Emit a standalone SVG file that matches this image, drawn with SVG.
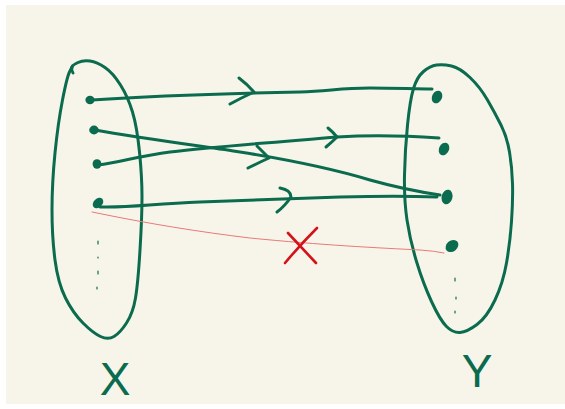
<svg xmlns="http://www.w3.org/2000/svg" width="565" height="409" viewBox="0 0 565 409">
<style>
.set{fill:none;stroke:#0b6b4e;stroke-width:3;stroke-linecap:round;stroke-linejoin:round}
.dot{fill:#0b6b4e}
.tick{stroke:#0b6b4e;stroke-width:1.2;stroke-linecap:round}
.edge{fill:none;stroke:#0b6b4e;stroke-width:3;stroke-linecap:round;stroke-linejoin:round}
.bad{fill:none;stroke:#e87a78;stroke-width:1;stroke-linecap:round}
.cross{fill:none;stroke:#d3121c;stroke-width:2.6;stroke-linecap:round}
.lbl{font-family:"Liberation Sans",Arial,sans-serif;font-size:46px;fill:#0b6b4e;text-anchor:middle}
</style>
<rect x="0" y="0" width="565" height="409" fill="#ffffff"/>
<rect x="6" y="5" width="559" height="399" fill="#f7f5e9"/>

<g id="set-X">
<path class="set" d="M78,62.5 Q83,60 90,61 Q97,62 105,67.5 Q113,73 120.5,85 Q128,97 132.5,112 Q137,127 139.5,152 Q142,177 142,197 Q142,217 140,250 Q138,283 135.5,298 Q133,313 126.5,323 Q120,333 114,336.5 Q108,340 100.5,336.5 Q93,333 83,323 Q73,313 65.5,298 Q58,283 55,260 Q52,237 52,210 Q52,183 55,153 Q58,123 62.5,100 Q67,77 69.5,72 Q72,67 72.5,66 Q73,65 78,62.5"/>
<path class="set" d="M72,67 Q71,70 73,73"/>
<line class="tick" x1="98" y1="241" x2="98" y2="244"/>
<line class="tick" x1="98" y1="257" x2="98" y2="258"/>
<line class="tick" x1="98" y1="271" x2="98" y2="274"/>
<line class="tick" x1="97" y1="287" x2="97" y2="289"/>
</g>

<g id="set-Y">
<path class="set" d="M451.5,66 Q460,68 470,77.5 Q480,87 487.5,100 Q495,113 501,125 Q507,137 509.5,152 Q512,167 512.5,183.5 Q513,200 511.5,221.5 Q510,243 506.5,263 Q503,283 495,300 Q487,317 477,324.5 Q467,332 460,332.5 Q453,333 446.5,326.5 Q440,320 431.5,301.5 Q423,283 416.5,261.5 Q410,240 407,220 Q404,200 404.5,175 Q405,150 407.5,125 Q410,100 413.5,88.5 Q417,77 423.5,71.5 Q430,66 436.5,65 Q443,64 451.5,66"/>
<line class="tick" x1="455" y1="278" x2="455" y2="281"/>
<line class="tick" x1="456" y1="297" x2="456" y2="299"/>
<line class="tick" x1="455" y1="311" x2="455" y2="313"/>
</g>

<g id="x1"><ellipse class="dot" cx="90" cy="100" rx="4.6" ry="4.2"/></g>
<g id="x2"><ellipse class="dot" cx="94" cy="130" rx="4.8" ry="4.4"/></g>
<g id="x3"><ellipse class="dot" cx="97" cy="164" rx="4.4" ry="4.8"/></g>
<g id="x4"><ellipse class="dot" cx="98" cy="203" rx="6" ry="4.4" transform="rotate(-45 98 203)"/></g>
<g id="y1"><ellipse class="dot" cx="437" cy="97" rx="5" ry="6.6" transform="rotate(25 437 97)"/></g>
<g id="y2"><ellipse class="dot" cx="444" cy="149" rx="5" ry="6.6" transform="rotate(25 444 149)"/></g>
<g id="y3"><ellipse class="dot" cx="447" cy="197" rx="5.4" ry="7.4" transform="rotate(15 447 197)"/></g>
<g id="y4"><ellipse class="dot" cx="452" cy="246" rx="5.4" ry="7" transform="rotate(50 452 246)"/></g>

<g id="connectors">
<path class="edge" d="M92,100 C150,96 250,93 300,92 C330,91 340,88 370,88 C395,88 415,89 432,89"/>
<path class="edge" d="M239,78 Q247,84 254,92 Q241,98 230,104"/>
<path class="edge" d="M95,130 C140,138 200,146 240,152 C290,160 330,168 370,180 C395,187 420,192 440,195"/>
<path class="edge" d="M257,146 Q263,152 269,158 Q258,163 248,168"/>
<path class="edge" d="M98,165 C120,162 140,156 170,152 C220,146 290,141 337,137 C370,135 410,136 439,138"/>
<path class="edge" d="M328,128 Q333,132 337,137 Q332,142 326,147"/>
<path class="edge" d="M100,207 C130,208 150,204 200,202 C250,200 300,198 340,197 C380,196 410,196 437,197"/>
<path class="edge" d="M280,188 Q291,190 291,197 Q285,206 277,212"/>
<path class="bad" d="M92,212 C150,224 200,232 250,238 C320,245 380,248 420,250 Q435,251 444,253"/>
<path class="cross" d="M288,233 Q302,248 316,263 M317,228 Q300,245 285,263"/>
</g>

<text class="lbl" x="115" y="395">X</text>
<text class="lbl" x="477" y="387">Y</text>
</svg>
